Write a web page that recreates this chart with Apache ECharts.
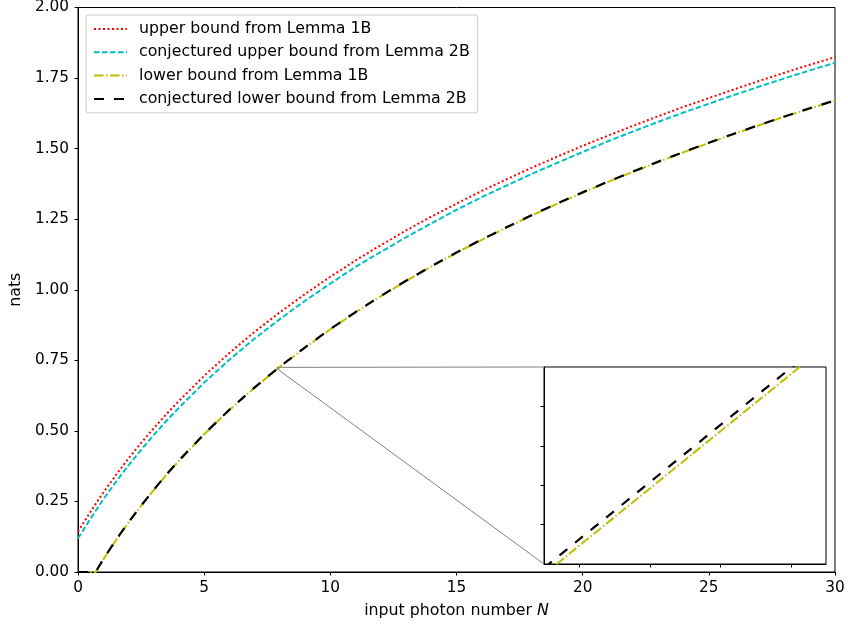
<!DOCTYPE html>
<html>
<head>
<meta charset="utf-8">
<script src="https://cdn.jsdelivr.net/npm/echarts@6/dist/echarts.min.js"></script>
<style>
  html, body { margin: 0; padding: 0; background: #fff; }
  #chart { width: 848px; height: 630px; }
</style>
</head>
<body>
<div id="chart"></div>
<script>
const photonN = [0, 0.5, 0.7, 1, 1.5, 2, 2.5, 3, 3.5, 4, 5, 6, 7, 8, 9, 10,
  11, 12, 13, 14, 15, 16, 17, 18, 19, 20, 21, 22, 23, 24, 25, 26, 27, 28, 29, 30];

const upper1B = [0.143, 0.214, 0.241, 0.281, 0.343, 0.402, 0.457, 0.509, 0.559, 0.606, 0.695, 0.776, 0.851, 0.920, 0.985, 1.046,
  1.104, 1.158, 1.210, 1.259, 1.305, 1.350, 1.392, 1.433, 1.472, 1.510, 1.546, 1.581, 1.615, 1.648, 1.679, 1.710, 1.740, 1.769, 1.797, 1.824];

const upper2B = [0.119, 0.190, 0.217, 0.257, 0.319, 0.378, 0.433, 0.485, 0.535, 0.582, 0.671, 0.752, 0.827, 0.896, 0.961, 1.022,
  1.081, 1.134, 1.186, 1.235, 1.283, 1.328, 1.370, 1.411, 1.450, 1.488, 1.526, 1.561, 1.595, 1.628, 1.659, 1.690, 1.720, 1.749, 1.777, 1.804];

const lower1B = [0, 0, 0, 0.044, 0.112, 0.175, 0.234, 0.290, 0.344, 0.394, 0.488, 0.574, 0.653, 0.727, 0.795, 0.860,
  0.920, 0.977, 1.031, 1.082, 1.131, 1.177, 1.221, 1.264, 1.305, 1.344, 1.382, 1.418, 1.453, 1.487, 1.520, 1.552, 1.583, 1.613, 1.642, 1.670];

const lower2B = [0, 0, 0, 0.045, 0.113, 0.176, 0.235, 0.291, 0.345, 0.395, 0.489, 0.575, 0.654, 0.728, 0.796, 0.861,
  0.921, 0.978, 1.032, 1.083, 1.132, 1.178, 1.222, 1.265, 1.306, 1.345, 1.383, 1.419, 1.454, 1.488, 1.521, 1.553, 1.584, 1.614, 1.643, 1.671];

// zoomed inset
const insetRangeN = [7.89, 7.97];
const insetRangeY = [0.720, 0.725];
const insetN = [7.89, 7.97];
const insetLower1B = [0.71974, 0.72554];
const insetLower2B = [0.71990, 0.72570];
const insetTicksN = [7.90, 7.92, 7.94, 7.96];
const insetTicksY = [0.721, 0.722, 0.723, 0.724];

const names = [
  'upper bound from Lemma 1B',
  'conjectured upper bound from Lemma 2B',
  'lower bound from Lemma 1B',
  'conjectured lower bound from Lemma 2B'
];

function pairs(xs, ys) {
  return xs.map((x, i) => [x, ys[i]]);
}

const FONT = 'DejaVu Sans';
const styles = [
  { color: '#ff0000', width: 2, type: [2, 2.5] },
  { color: '#00bfbf', width: 2, type: [5.5, 2.5] },
  { color: '#bfbf00', width: 2, type: [9.5, 2.5, 1.5, 2.5] },
  { color: '#000000', width: 2.2, type: [10, 10] }
];

const chart = echarts.init(document.getElementById('chart'));

let mainAxisCommon = {
  axisLine: { show: true, lineStyle: { color: '#000', width: 1 } },
  axisTick: { show: true, inside: false, length: 3.5, lineStyle: { color: '#000' } },
  axisLabel: { color: '#000', fontFamily: FONT, fontSize: 15.3, margin: 9 },
  splitLine: { show: false }
};

let insetAxisCommon = {
  axisLine: { show: true, lineStyle: { color: '#000', width: 1 } },
  axisLabel: { show: false },
  splitLine: { show: false }
};

let option = {
  animation: false,
  backgroundColor: '#fff',
  textStyle: { fontFamily: FONT },
  legend: {
    orient: 'vertical',
    left: 86,
    top: 15,
    padding: [5, 8, 5, 7],
    itemWidth: 33,
    itemHeight: 12,
    itemGap: 5.3,
    backgroundColor: 'rgba(255,255,255,0.8)',
    borderColor: '#cccccc',
    borderWidth: 1,
    borderRadius: 3,
    data: names,
    itemStyle: { opacity: 0 },
    textStyle: { fontFamily: FONT, fontSize: 15.8, color: '#000', lineHeight: 18, padding: [0, 0, 0, 7] }
  },
  grid: [
    { left: 78, right: 13, top: 7, bottom: 58, show: true, borderColor: '#000', borderWidth: 1 },
    { left: 544, top: 367, width: 282, height: 197, show: true, borderColor: '#000', borderWidth: 1, backgroundColor: '#fff' }
  ],
  xAxis: [
    Object.assign({}, mainAxisCommon, {
      type: 'value', gridIndex: 0, min: 0, max: 30, interval: 5,
      name: 'input photon number {i|N}',
      nameLocation: 'middle',
      nameGap: 31,
      nameTextStyle: { fontFamily: FONT, fontSize: 15.8, color: '#000', rich: { i: { fontStyle: 'italic', fontFamily: FONT, fontSize: 15.8 } } }
    }),
    Object.assign({}, insetAxisCommon, {
      type: 'value', gridIndex: 1, min: insetRangeN[0], max: insetRangeN[1],
      axisTick: { show: true, inside: false, length: 3.5, customValues: insetTicksN, lineStyle: { color: '#000' } }
    })
  ],
  yAxis: [
    Object.assign({}, mainAxisCommon, {
      type: 'value', gridIndex: 0, min: 0, max: 2, interval: 0.25,
      axisLabel: Object.assign({}, mainAxisCommon.axisLabel, { formatter: v => v.toFixed(2) }),
      name: 'nats',
      nameLocation: 'middle',
      nameGap: 52,
      nameTextStyle: { fontFamily: FONT, fontSize: 15.8, color: '#000' }
    }),
    Object.assign({}, insetAxisCommon, {
      type: 'value', gridIndex: 1, min: insetRangeY[0], max: insetRangeY[1],
      axisTick: { show: true, inside: false, length: 3.5, customValues: insetTicksY, lineStyle: { color: '#000' } }
    })
  ],
  series: [
    { name: names[0], data: pairs(photonN, upper1B) },
    { name: names[1], data: pairs(photonN, upper2B) },
    { name: names[2], data: pairs(photonN, lower1B) },
    { name: names[3], data: pairs(photonN, lower2B) },
    { name: names[2], data: pairs(insetN, insetLower1B), xAxisIndex: 1, yAxisIndex: 1, style: 2 },
    { name: names[3], data: pairs(insetN, insetLower2B), xAxisIndex: 1, yAxisIndex: 1, style: 3 }
  ].map((s, i) => {
    const ls = styles[s.style !== undefined ? s.style : i];
    return {
      name: s.name,
      type: 'line',
      xAxisIndex: s.xAxisIndex || 0,
      yAxisIndex: s.yAxisIndex || 0,
      data: s.data,
      symbol: 'none',
      smooth: false,
      clip: true,
      z: 3 + i,
      color: ls.color,
      itemStyle: { color: ls.color },
      lineStyle: ls
    };
  })
};
chart.setOption(option);

// zoom box on the main axes and the two connector lines to the inset
const boxTL = chart.convertToPixel({ gridIndex: 0 }, [insetRangeN[0], insetRangeY[1]]);
const boxBR = chart.convertToPixel({ gridIndex: 0 }, [insetRangeN[1], insetRangeY[0]]);
const boxBL = chart.convertToPixel({ gridIndex: 0 }, [insetRangeN[0], insetRangeY[0]]);
const inTL = chart.convertToPixel({ gridIndex: 1 }, [insetRangeN[0], insetRangeY[1]]);
const inBL = chart.convertToPixel({ gridIndex: 1 }, [insetRangeN[0], insetRangeY[0]]);
const gray = { stroke: '#808080', lineWidth: 1, fill: null };

chart.setOption({
  graphic: [
    { type: 'rect', z: 10, shape: { x: boxTL[0], y: boxTL[1], width: boxBR[0] - boxTL[0], height: boxBR[1] - boxTL[1] }, style: gray },
    { type: 'line', z: 1, shape: { x1: boxTL[0], y1: boxTL[1], x2: inTL[0], y2: inTL[1] }, style: gray },
    { type: 'line', z: 1, shape: { x1: boxBL[0], y1: boxBL[1], x2: inBL[0], y2: inBL[1] }, style: gray }
  ]
});
</script>
</body>
</html>
